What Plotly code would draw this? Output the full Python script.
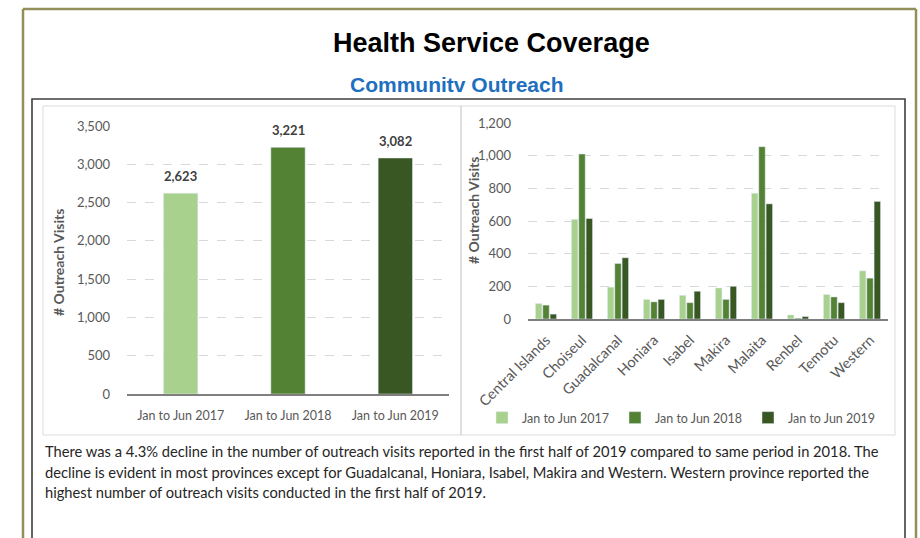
import plotly.graph_objects as go

# ---- data ----
periods = ["Jan to Jun 2017", "Jan to Jun 2018", "Jan to Jun 2019"]
total_visits = [2623, 3221, 3082]

provinces = ["Central Islands", "Choiseul", "Guadalcanal", "Honiara", "Isabel",
             "Makira", "Malaita", "Renbel", "Temotu", "Western"]
visits_2017 = [95, 610, 195, 120, 145, 190, 770, 25, 150, 295]
visits_2018 = [85, 1010, 340, 105, 100, 120, 1055, 5, 135, 250]
visits_2019 = [30, 615, 375, 120, 170, 200, 705, 15, 100, 720]

colors = ["#a9d18e", "#548235", "#385723"]

W, H = 920, 538


def px(x):
    return x / W


def py(y):
    return 1 - y / H


FONT = "Lato, Open Sans, sans-serif"
TICK = dict(family=FONT, size=13, color="#595959")

fig = go.Figure()

# left chart: totals per half-year
fig.add_trace(go.Bar(
    x=periods, y=total_visits, marker_color=colors, width=0.32,
    showlegend=False, xaxis="x", yaxis="y", hoverinfo="x+y",
))

# right chart: visits by province
for name, vals, col in zip(periods, [visits_2017, visits_2018, visits_2019], colors):
    fig.add_trace(go.Bar(
        x=provinces, y=vals, name=name, marker_color=col,
        xaxis="x2", yaxis="y2",
    ))

grid = dict(showgrid=True, gridcolor="#d9d9d9", griddash="dash", gridwidth=1,
            zeroline=False, showline=False, ticks="", tickfont=TICK,
            ticklabelstandoff=16)

fig.update_layout(
    width=W, height=H,
    margin=dict(l=0, r=0, t=0, b=0, autoexpand=False),
    paper_bgcolor="white", plot_bgcolor="rgba(0,0,0,0)",
    barmode="group", bargap=0.39, bargroupgap=0.12,
    xaxis=dict(domain=[px(127), px(449)], showline=True, linecolor="#7f7f7f",
               linewidth=2, ticks="", tickfont=dict(family=FONT, size=12.5, color="#595959"),
               ticklabelstandoff=9),
    yaxis=dict(domain=[py(394), py(126)], range=[0, 3500], dtick=500,
               tickformat=",", **grid),
    xaxis2=dict(domain=[px(528), px(888)], anchor="y2", showline=True,
                linecolor="#7f7f7f", linewidth=2, ticks="", tickangle=-45,
                ticklabelstandoff=5,
                tickfont=dict(family=FONT, size=14.5, color="#595959")),
    yaxis2=dict(domain=[py(319), py(123)], anchor="x2", range=[0, 1200],
                dtick=200, tickformat=",", **grid),
    legend=dict(orientation="h", x=px(482), xanchor="left", y=py(418),
                yanchor="middle", font=dict(family=FONT, size=12.5, color="#595959"),
                bgcolor="rgba(0,0,0,0)",
                itemwidth=30, entrywidth=88, entrywidthmode="pixels",
                traceorder="normal"),
    font=dict(family=FONT),
)

# page frames
olive = dict(color="#948f5a", width=2.5)
shapes = [
    dict(type="line", x0=px(23), x1=px(23), y0=0, y1=py(9), line=olive),
    dict(type="line", x0=px(23), x1=px(916), y0=py(9), y1=py(9), line=olive),
    dict(type="line", x0=px(916), x1=px(916), y0=0, y1=py(9), line=olive),
    dict(type="rect", x0=px(32), x1=px(905), y0=py(545), y1=py(99), line=dict(color="#3f3f3f", width=1.6)),
    dict(type="rect", x0=px(43), x1=px(895), y0=py(435), y1=py(106), line=dict(color="#dcdcdc", width=1)),
    dict(type="line", x0=px(461), x1=px(461), y0=py(435), y1=py(106), line=dict(color="#bfbfbf", width=1)),
]
for s in shapes:
    s.update(xref="paper", yref="paper", layer="below")
fig.update_layout(shapes=shapes)

axis_title = dict(family=FONT, size=14, color="#595959", weight="bold")
body_lines = [
    "There was a 4.3% decline in the number of outreach visits reported in the first half of 2019 "
    "compared to same period in 2018. The",
    "decline is evident in most provinces except for Guadalcanal, Honiara, Isabel, Makira and "
    "Western. Western province reported the",
    "highest number of outreach visits conducted in the first half of 2019.",
]
annotations = [
    dict(text="<b>Health Service Coverage</b>", x=px(491), y=py(43),
         font=dict(family="Liberation Sans, Arial, sans-serif", size=27, color="#000000")),
    dict(text="<b>Communitv Outreach</b>", x=px(457), y=py(84),
         font=dict(family="Liberation Sans, Arial, sans-serif", size=21, color="#1f6fbf")),
    dict(text="# Outreach Visits", x=px(58), y=py(263), textangle=-90, font=axis_title),
    dict(text="# Outreach Visits", x=px(473), y=py(211), textangle=-90, font=axis_title),
]
for i, line in enumerate(body_lines):
    annotations.append(dict(text=line, x=px(43), y=py(451 + 20.5 * i), xanchor="left",
                            font=dict(family=FONT, size=14.7, color="#262626")))
for a in annotations:
    a.setdefault("xanchor", "center")
    a.setdefault("yanchor", "middle")
    a.update(xref="paper", yref="paper")

# value labels above the left-hand bars
for p, v in zip(periods, total_visits):
    annotations.append(dict(text=f"{v:,}", x=p, y=v, xref="x", yref="y",
                            yanchor="bottom", yshift=7,
                            font=dict(family=FONT, size=13, color="#404040", weight="bold")))
for a in annotations:
    a["showarrow"] = False
fig.update_layout(annotations=annotations)

fig.write_html("out.html")
